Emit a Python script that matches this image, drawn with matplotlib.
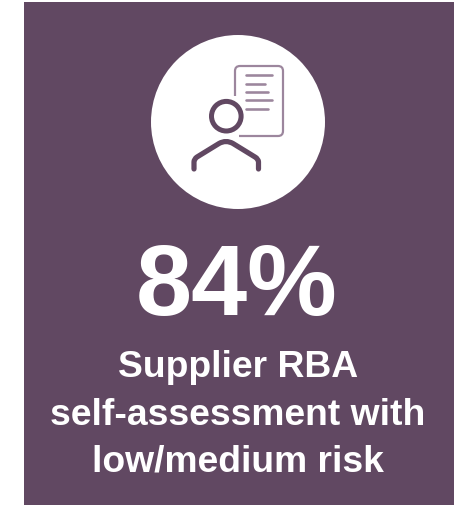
import matplotlib
matplotlib.use('Agg')
import matplotlib.pyplot as plt
from matplotlib.patches import Circle, FancyBboxPatch, PathPatch, Rectangle
from matplotlib.path import Path

W, H = 454, 506
PURPLE = '#614862'
LIGHT = '#9c869d'

value_text = '84%'
caption_lines = ['Supplier RBA', 'self-assessment with', 'low/medium risk']
caption_y = [377, 425, 471.5]

plt.rcParams['font.family'] = ['Liberation Sans', 'DejaVu Sans']

fig = plt.figure(figsize=(W / 100, H / 100), dpi=100)
ax = fig.add_axes([0, 0, 1, 1])
ax.set_xlim(0, W)
ax.set_ylim(H, 0)
ax.axis('off')

# px to pt for line widths
px = 72 / 100

# background panel and circle
ax.add_patch(Rectangle((24, 3), 430, 503, color=PURPLE, lw=0))
ax.add_patch(Circle((238, 123), 87, color='white', lw=0))

# document outline, left open behind the head
x0, x1, y0, y1, r = 235, 283, 67, 137, 5
ax.add_patch(FancyBboxPatch((x0, y0), x1 - x0, y1 - y0, boxstyle=f'round,pad=0,rounding_size={r}',
                            fc='none', ec=LIGHT, lw=2.2 * px))
ax.add_patch(Rectangle((x0 - 2, 97), 5, 45, color='white', lw=0, zorder=2.5))
ax.add_patch(Rectangle((x0 - 2, 128), 6, 12, color='white', lw=0, zorder=2.5))

# text lines on the document
for y, xe in zip([76.3, 84.7, 93, 101.3, 109.7], [272, 264.5, 268, 272, 268]):
    ax.plot([245.5, xe], [y, y], color=LIGHT, lw=2.6 * px, solid_capstyle='round')

# person: head and shoulders
ax.add_patch(Circle((226.3, 117.2), 14.8, fc='white', ec=PURPLE, lw=5 * px, zorder=3))
shoulders = Path(
    [(194, 170), (194, 163), (194, 160), (197, 158), (219, 144.5), (226, 140.5), (233, 144.5),
     (255, 158), (258.5, 160), (258.5, 163), (258.5, 170)],
    [Path.MOVETO, Path.LINETO, Path.CURVE3, Path.CURVE3, Path.LINETO, Path.CURVE3, Path.CURVE3,
     Path.LINETO, Path.CURVE3, Path.CURVE3, Path.LINETO])
ax.add_patch(PathPatch(shoulders, fc='none', ec=PURPLE, lw=5.2 * px, capstyle='round',
                       joinstyle='round', zorder=3))

ax.text(236.5, 315.5, value_text, color='white', fontsize=72.5, fontweight='bold', ha='center', va='baseline')
for line, y in zip(caption_lines, caption_y):
    ax.text(238, y, line, color='white', fontsize=26.8, fontweight='bold', ha='center', va='baseline')

fig.savefig('out.png', dpi=100)
